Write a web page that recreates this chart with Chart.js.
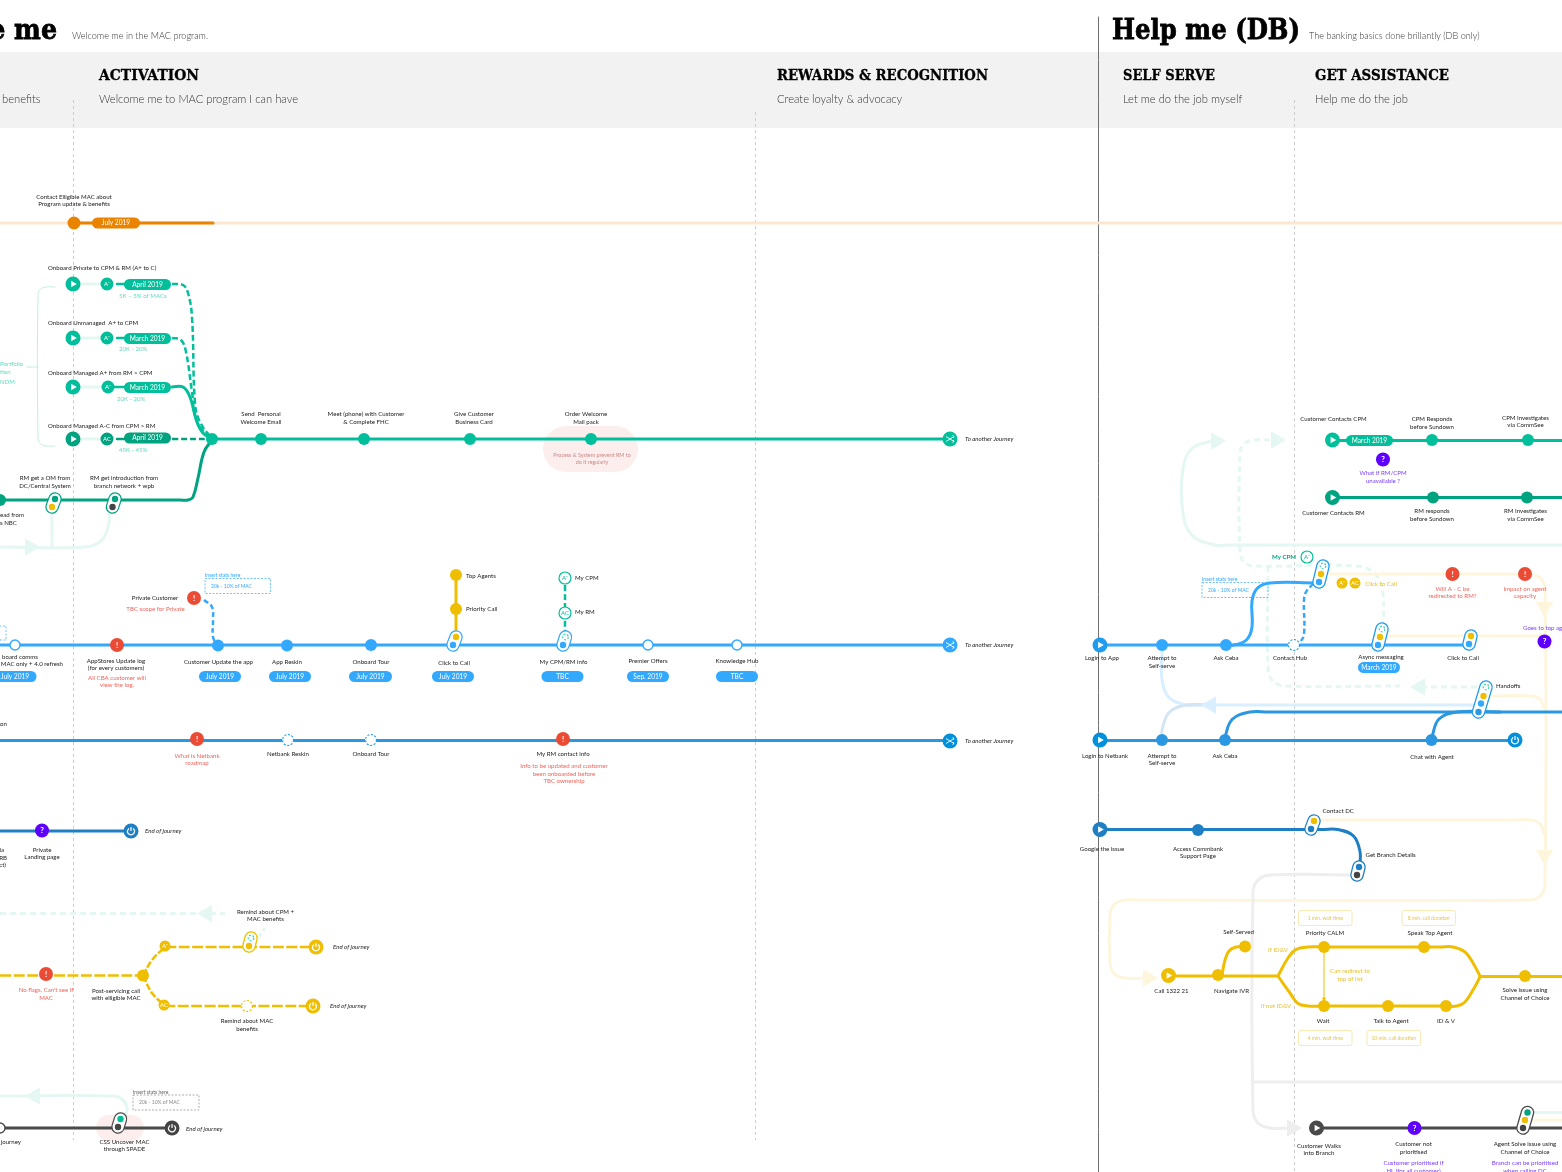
<!DOCTYPE html>
<html>
<head>
<meta charset="utf-8">
<title>Journey map</title>
<script src="https://cdn.jsdelivr.net/npm/chart.js@4/dist/chart.umd.min.js"></script>
<style>
  html, body { margin: 0; padding: 0; background: #fff; overflow: hidden; }
  canvas { display: block; }
</style>
</head>
<body>
<canvas id="map" width="1562" height="1172"></canvas>
<script>
// ── Routes (x, y) ─────────────────────────────────────────────────────────────
const guideA = [[73.5,100],[73.5,1140]];
const guideB = [[755.5,112],[755.5,1140]];
const guideC = [[1294.5,100],[1294.5,1172]];
const divider = [[1098.5,17],[1098.5,1172]];

const orangePale = [[0,223],[1562,223]];
const orangeBold = [[74,223],[213,223]];

const bracket = [[55,287],[46,287],[40.3,289.3],[38,295],[38,438],[40.3,443.7],[46,446],[55,446]];
const bracketTick = [[27,367],[38,367]];
const rowPaleA = [[73,284],[107,284]];
const rowPaleB = [[73,338],[107,338]];
const rowPaleC = [[73,387],[107,387]];
const rowPaleD = [[73,439],[107,439]];
const rowStubA = [[117,284],[124,284]];
const rowStubB = [[117,338],[124,338]];
const rowStubC = [[113,387],[124,387]];
const rowStubD = [[117,439],[124,439]];
const privateMerge = [[172,284],[183,285],[188,293],[192,317],[195,403],[200,422],[212,439]];
const unmanagedMerge = [[172,338],[181,340],[186,352],[192,392],[197,422],[212,439]];
const managedMerge = [[172,387],[183,387],[190,397],[197,422],[203,433],[212,439]];
const managedAcMerge = [[172,439],[212,439]];
const onboardMain = [[212,439],[950,439]];
const rmLine = [[0,500],[180,500],[188,500],[193,497],[198,478],[204,452],[212,440]];
const paleNbcA = [[109,513],[109,523],[102,540],[85,547],[0,547]];
const paleNbcB = [[52,510],[52,547]];

const appLine = [[0,645],[950,645]];
const privateDash = [[204,600],[212,607],[213,620],[213,637],[217,645]];
const agentsLine = [[456,575],[456,636]];
const rmStem = [[565,585],[565,632]];
const netbankLine = [[0,740.5],[950,740.5]];
const landingLine = [[0,831],[131,831]];

const remindPale = [[0,913.5],[225,913.5]];
const remindPaleStub = [[258,938],[265,928]];
const servicingDash = [[0,975.5],[143,975.5]];
const servicingUp = [[143,975.5],[152,960],[165,947]];
const servicingDown = [[143,975.5],[152,993],[164,1005]];
const servicingTop = [[165,947],[316,947]];
const servicingBottom = [[164,1006],[313,1006]];
const spadeLine = [[0,1128],[172,1128]];
const spadePale = [[125,1116],[127,1108],[123,1100],[113,1096],[0,1096]];

const cpmLine = [[1332,440.5],[1562,440.5]];
const rmContactLine = [[1332,497.5],[1562,497.5]];
const tealLoop = [[1562,545],[1230,545],[1215,545],[1192.4,535.6],[1183,513],[1183,469],[1191.2,449.2],[1211,441],[1216,441]];
const tealDashA = [[1270,440],[1254,440],[1244,444],[1240,454],[1240,552],[1244,562],[1254,566],[1355,566],[1375,574],[1383,594],[1383,628]];
const tealDashB = [[1268,566],[1268,668],[1273,681],[1286,686],[1400,686]];
const tealDashC = [[1477,687],[1425,687]];

const loginLine = [[1100,645],[1470,645]];
const cebaUp = [[1226,645],[1234,645],[1246.7,639.7],[1252,627],[1252,601],[1257.3,588.3],[1270,583],[1315,583]];
const hubDash = [[1294,645],[1300,642],[1304,634],[1304,600],[1306,592],[1313,584]];
const yellowReturn = [[1325,574],[1515,574],[1530,574],[1540.6,578.4],[1545,589],[1545,885],[1540.6,895.6],[1530,900],[1140,900],[1125,900],[1114.4,904.4],[1110,915],[1110,963],[1114.4,973.6],[1125,978],[1148,978]];
const asyncPale = [[1385,636],[1545,636]];
const handoffPale = [[1488,696],[1532,696],[1540.5,699.5],[1544,708]];
const contactPale = [[1317,820],[1515,820],[1531,820],[1540,824],[1544,834]];
const bluePaleA = [[1162,650],[1162,680],[1169.3,697.7],[1187,705],[1205,705],[1478,705]];
const bluePaleB = [[1162,735],[1162,730],[1169.3,712.3],[1187,705],[1210,705]];
const netbankRight = [[1100,740.5],[1515,740.5]];
const netbankUp = [[1225,740],[1225,737],[1232.3,719.3],[1250,712],[1268,712],[1562,712]];
const chatUp = [[1432,740],[1432,737],[1439,719],[1457,712],[1500,712]];
const googleLine = [[1100,829.5],[1322,829.5],[1338,829.5],[1353.5,836],[1360,851.5],[1360,865]];
const grayBranch = [[1352,875],[1270,875],[1258,880],[1253,892],[1253,1110],[1258,1123],[1270,1128],[1290,1128]];
const grayAcross = [[1253,1082],[1562,1082]];
const callLine = [[1168,976],[1278,976]];
const selfServedLine = [[1222,975],[1225,960],[1229,951],[1236,947],[1245,946.5]];
const priorityLine = [[1278,976],[1288,958],[1296,949.5],[1308,947],[1322,947],[1440,947],[1453,947],[1465,952],[1473,963],[1480,976]];
const waitLine = [[1278,976],[1290,993],[1298,1003.5],[1308,1006],[1322,1006],[1444,1006],[1457,1006],[1465,1002],[1473,990],[1480,977]];
const solveLine = [[1480,976.5],[1562,976.5]];
const redirectLine = [[1324,947],[1324,998]];
const branchLine = [[1316,1128],[1562,1128]];
const branchPaleTeal = [[1530,1112.5],[1562,1112.5]];
const branchPaleYellow = [[1530,1120],[1562,1120]];

// ── Stations ──────────────────────────────────────────────────────────────────
const tealStops = [[261,439],[364,439],[470,439],[591,439],[212,439],[1432,440],[1528,440]];
const darkTealStops = [[0,500],[1433,497.5],[1527,497.5]];
const orangeStops = [[74,223]];
const paleBlueStops = [[218,645.5],[287,645.5],[371,645],[1162,645],[1226,645]];
const midBlueStops = [[1162,740],[1225,740],[1431.5,740]];
const deepBlueStops = [[1198,830]];
const yellowStops = [[456,575],[456,609],[143,975.5],[1218,975],[1245,946.5],[1324,947],[1424,947],[1324,1006],[1388,1006],[1446,1006],[1525,976]];
const hollowStops = [[15,645],[648,645],[737,645]];
const hollowDarkStops = [[0,1128]];
const dashedBlueStops = [[288,740],[371,740],[1294,645]];
const dashedYellowStops = [[247,1006]];
const alertStops = [[117,645],[194,598],[197,739],[563,739],[46,974],[1452.5,574],[1525,574]];
const questionStops = [[42,830.5],[1383,459.5],[1544.5,641.5],[1414.5,1128]];

const playTeal = [[73,284],[73,338],[73,387],[1332.5,440]];
const playDarkTeal = [[73,439],[1332.5,497.5]];
const playBlue = [[1100,645]];
const playMidBlue = [[1100,740]];
const playDeepBlue = [[1100,829.5]];
const playYellow = [[1168.5,975.5]];
const playDark = [[1316.5,1128]];

const shuffleEnds = [[950,439,'#00bf9a'],[950,645,'#33a8ff'],[950,741,'#0090dc']];
const powerEnds = [[131,831,'#1f7fc4'],[316,947,'#efbe00'],[313,1006,'#efbe00'],[172,1128,'#444444'],[1515,740,'#0090dc']];

const letterTeal = [[107,284,'A⁺'],[107,338,'A⁺'],[108,387,'A⁺']];
const letterDarkTeal = [[107,439,'AC']];
const letterYellow = [[165,946,'A⁺'],[164,1005,'AC'],[1342,583,'A⁺'],[1355,583,'AC']];
const letterRings = [[565,578,'A⁺'],[565,613,'AC'],[1307,557,'A⁺']];

// Switches: dots from top to bottom of each capsule
const switchRmOm = [[55,499,'#00a37f'],[52,507,'#efbe00']];
const switchRmIntro = [[115,499,'#00a37f'],[112.5,507,'#444444']];
const switchCall = [[456,637,'#efbe00'],[453,645,'#33a8ff']];
const switchInfo = [[565.5,637,null],[563,645,'#33a8ff']];
const switchRemind = [[251,938,null],[249,946,'#efbe00']];
const switchSpade = [[120.5,1119,'#00bf9a'],[118,1127,'#444444']];
const switchContact = [[1323,566,null],[1321,574,'#efbe00'],[1319,582,'#33a8ff']];
const switchAsync = [[1382,629,null],[1380,637,'#efbe00'],[1378,645,'#33a8ff']];
const switchClick = [[1471,636,'#efbe00'],[1469,644,'#33a8ff']];
const switchHandoff = [[1486,687,null],[1483.5,696,'#efbe00'],[1481,703.5,'#33a8ff'],[1478.5,712,'#2a97e0']];
const switchDc = [[1314,821,'#efbe00'],[1311,829,'#1f7fc4']];
const switchBranch = [[1359,867,'#1f7fc4'],[1357,875,'#444444']];
const switchSolve = [[1527.5,1112.5,'#00a37f'],[1525,1120,'#efbe00'],[1523,1128,'#444444']];

// Arrow heads
const arrowsRightTeal = [[30,547],[1216,441],[1276,440]];
const arrowsLeftTeal = [[207,913.5],[35,1096],[1420,687]];
const arrowsDownYellow = [[1544.5,607],[1544.5,855]];
const arrowsRightYellow = [[1148,978]];
const arrowsLeftBlue = [[1211,705]];
const arrowsRightGray = [[1292,1128]];

// ── Text ──────────────────────────────────────────────────────────────────────
const pageTitles = [[57,39,'Welcome me',179,'right'],[1112,39,'Help me (DB)',188,'left']];
const pageNotes = [[72,36,'Welcome me in the MAC program.'],[1309,36,'The banking basics done brillantly (DB only)']];
const sectionTitles = [[99,76.5,'ACTIVATION',100],[777,76.5,'REWARDS & RECOGNITION',211],[1123,76.5,'SELF SERVE',92],[1315,76.5,'GET ASSISTANCE',134]];
const sectionNotes = [[2,99,'benefits'],[99,99,'Welcome me to MAC program I can have'],[777,99,'Create loyalty & advocacy'],[1123,99,'Let me do the job myself'],[1315,99,'Help me do the job']];

const centerLabels = [
  [74,197,'Contact Elligible MAC about\nProgram update & benefits'],
  [261,414.5,'Send  Personal\nWelcome Email'],[366,414.5,'Meet (phone) with Customer\n& Complete FHC'],
  [474,414.5,'Give Customer\nBusiness Card'],[586,414.5,'Order Welcome\nMail pack'],
  [45,478.5,'RM get a OM from\nDC/Central System'],[124,478.5,'RM get introduction from\nbranch network + wpb'],
  [116,661,'AppStores Update log\n(for every customers)'],[218.5,662,'Customer Update the app'],[287,662,'App Reskin'],
  [371,662,'Onboard Tour'],[454,663,'Click to Call'],[563.5,662.5,'My CPM/RM info'],[648,661.5,'Premier Offers'],[737,661.5,'Knowledge Hub'],
  [155,598,'Private Customer'],[288,754.5,'Netbank Reskin'],[371,754.5,'Onboard Tour'],[563,754.5,'My RM contact info'],
  [42,850,'Private\nLanding page'],[265.5,912,'Remind about CPM +\nMAC benefits'],[116,991,'Post-servicing call\nwith elligible MAC'],
  [247,1021.5,'Remind about MAC\nbenefits'],[124.5,1142,'CSS Uncover MAC\nthrough SPADE'],
  [1333.5,419.5,'Customer Contacts CPM'],[1432,419.5,'CPM Responds\nbefore Sundown'],[1525.5,418,'CPM Investigates\nvia CommSee'],
  [1333.5,513,'Customer Contacts RM'],[1432,511.5,'RM responds\nbefore Sundown'],[1525.5,511.5,'RM Investigates\nvia CommSee'],
  [1102,658.5,'Login to App'],[1162,658.5,'Attempt to\nSelf-serve'],[1226,658.5,'Ask Ceba'],[1290,658.5,'Contact Hub'],
  [1381,657,'Async messaging'],[1463,658.5,'Click to Call'],[1105,756,'Login to Netbank'],[1162,756,'Attempt to\nSelf-serve'],
  [1225,756,'Ask Ceba'],[1432,757,'Chat with Agent'],[1102,849,'Google the issue'],[1198,849,'Access Commbank\nSupport Page'],
  [1238.5,932,'Self-Served'],[1171.5,991.5,'Call 1322 21'],[1231.5,991.5,'Navigate IVR'],[1325,933.5,'Priority CALM'],[1430,933.5,'Speak Top Agent'],
  [1323,1021.5,'Wait'],[1391,1021.5,'Talk to Agent'],[1446,1021.5,'ID & V'],[1525,990.5,'Solve issue using\nChannel of Choice'],
  [1319,1146,'Customer Walks\ninto Branch'],[1413.5,1144.5,'Customer not\nprioritised'],[1525,1144.5,'Agent Solve issue using\nChannel of Choice'],
];
const leftLabels = [
  [48,268.5,'Onboard Private to CPM & RM (A+ to C)'],[48,323.5,'Onboard Unmanaged  A+ to CPM'],
  [48,373,'Onboard Managed A+ from RM > CPM'],[48,426,'Onboard Managed A-C from CPM > RM'],
  [0,515.5,'ead from'],[0,523,'s NBC'],[466,576,'Top Agents'],[466,609.5,'Priority Call'],[575,578,'My CPM'],[575,612,'My RM'],[0,724.5,'on'],
  [1496,686.5,'Handoffs'],[1322.5,811,'Contact DC'],[1365.5,855,'Get Branch Details'],
];
const rightLabels = [[38,656.7,'board comms'],[63,664,'MAC only + 4.0 refresh'],[4,850,'la'],[7,858,'RB'],[6,865,'ct)'],[21,1142,'journey']];
const endLabels = [
  [965,439,'To another Journey'],[965,645,'To another Journey'],[965,741,'To another Journey'],
  [145,831.5,'End of journey'],[333,947.5,'End of journey'],[330,1006.5,'End of journey'],[186,1129,'End of journey'],
];
const redNotes = [
  [117,678,'All CBA customer will\nview the log.'],[155.5,609.5,'TBC scope for Private'],[197,756,'What is Netbank\nroadmap'],
  [564,766.5,'Info to be updated and customer\nbeen onboarded before\nTBC ownership'],[46,990.5,"No flags. Can't see if\nMAC"],
  [1452.5,589,'Will A - C be\nredirected to RM?'],[1525,589,'Impact on agent\ncapacity'],
];
const purpleNotes = [
  [1383,473.5,'What if RM/CPM\nunavailable ?'],[1413.5,1163.5,'Customer prioritised if\nHL (for all customer)'],[1525,1163.5,'Branch can be prioritised\nwhen calling DC'],
];
const yellowNotes = [[1278,950.5,'If ID&V'],[1276,1006.5,'If not ID&V'],[1350,971.5,'Can redirect to\ntop of list'],[1381,584.5,'Click to Call']];
const tealNotes = [
  [119,296,'5K – 5% of MACs','left'],[119,349,'20K - 20%','left'],[117,399,'20K - 20%','left'],[119,450.5,'45K - 45%','left'],
  [0,364.5,'Portfolio','left'],[0,372,'tion','left'],[0,382,'NDM','left'],
];
const blobNotes = [[592,455,'Process & System prevent RM to\ndo it regularly']];

const pills = [
  ['July 2019',116,223,48,'#e98300'],['April 2019',147.5,284.5,47,'#00bf9a'],['March 2019',147.5,338.5,47,'#00bf9a'],
  ['March 2019',147.5,387.5,47,'#00bf9a'],['April 2019',147.5,438,47,'#00a37f'],
  ['July 2019',15,676.5,43,'#33a8ff'],['July 2019',220,676.5,42,'#33a8ff'],['July 2019',290,676.5,42,'#33a8ff'],['July 2019',370.5,676.5,43,'#33a8ff'],
  ['July 2019',453,676.5,42,'#33a8ff'],['TBC',562.5,676.5,42,'#33a8ff'],['Sep. 2019',648,676.5,42,'#33a8ff'],['TBC',737,676.5,42,'#33a8ff'],
  ['March 2019',1369.5,440.5,47,'#00bf9a'],['March 2019',1379,667.5,42,'#33a8ff'],
];
const statBoxes = [
  [205,578.5,65.5,15,'20k - 10% of MAC','#33a8ff'],[1202,582.5,66,15,'20k - 10% of MAC','#33a8ff'],[133,1095,66,15,'20k - 10% of MAC','#8a8a8a'],[-60,626,66,14,'','#33a8ff'],
];
const statHeads = [[205,575,'Insert stats here','#33a8ff'],[1202,579,'Insert stats here','#33a8ff'],[133,1092,'Insert stats here','#666666']];
const timeBoxes = [
  [1298.5,910.5,'1 min. wait time'],[1402,910.5,'8 min. call duration'],[1298.5,1030.5,'4 min. wait time'],[1367,1030.5,'10 min. call duration'],
];
const pinkBlobs = [[543,426,95,46,23],[96,1115,48,26,13]];

// ── Build datasets ────────────────────────────────────────────────────────────
const xy = (pts) => pts.map(p => ({ x: p[0], y: p[1] }));
const datasets = [];

function addLine(points, color, width, dash) {
  datasets.push({
    data: xy(points), showLine: true, tension: 0.4, pointRadius: 0, borderColor: color, borderWidth: width,
    borderDash: dash || [], borderCapStyle: dash ? 'butt' : 'round', borderJoinStyle: 'round', order: -datasets.length,
  });
}
function addNodes(points, color, radius, style) {
  const s = style || {};
  datasets.push({
    data: xy(points), showLine: false, pointRadius: radius, pointBackgroundColor: color,
    pointBorderColor: s.border || color, pointBorderWidth: s.borderWidth || 0,
    pointStyle: s.shape || 'circle', pointRotation: s.rotation || 0, order: -datasets.length,
  });
}
function addSwitch(dots, color) {
  const ends = [dots[0], dots[dots.length - 1]];
  addLine(ends, color, 13.5);
  addLine(ends, '#ffffff', 11);
  dots.filter(d => d[2]).forEach(d => addNodes([d], d[2], 3.2));
}

const TEAL = '#00bf9a', DARKTEAL = '#00a37f', PALETEAL = '#e5f7f2';
const BLUE = '#33a8ff', MIDBLUE = '#2a97e0', DEEPBLUE = '#1f7fc4';
const YELLOW = '#efbe00', PALEYELLOW = '#fdf5dc', DARK = '#4a4a4a', PALEGRAY = '#eeeeee';

addLine(guideA, '#cccccc', 1, [3, 3]);
addLine(guideB, '#cccccc', 1, [3, 3]);
addLine(guideC, '#cccccc', 1, [3, 3]);
addLine(divider, '#707070', 1);

// pale return routes go underneath everything else
addLine(orangePale, '#fde8cf', 3);
addLine(paleNbcA, PALETEAL, 3);
addLine(paleNbcB, PALETEAL, 3);
addLine(spadePale, PALETEAL, 3);
addLine(remindPale, PALETEAL, 3, [6, 4]);
addLine(remindPaleStub, PALETEAL, 3, [6, 3]);
addLine(tealLoop, PALETEAL, 3);
addLine(tealDashA, PALETEAL, 3, [6, 4]);
addLine(tealDashB, PALETEAL, 3, [6, 4]);
addLine(tealDashC, PALETEAL, 3, [6, 4]);
addLine(yellowReturn, PALEYELLOW, 3);
addLine(asyncPale, PALEYELLOW, 3);
addLine(handoffPale, PALEYELLOW, 3);
addLine(contactPale, PALEYELLOW, 3);
addLine(bluePaleA, '#d9eeff', 3);
addLine(bluePaleB, '#d3e5f5', 3);
addLine(grayBranch, PALEGRAY, 3);
addLine(grayAcross, PALEGRAY, 3);
addLine(branchPaleTeal, PALETEAL, 3);
addLine(branchPaleYellow, PALEYELLOW, 3);
addLine(bracket, '#bfeee2', 1);
addLine(bracketTick, '#bfeee2', 1);
addLine(rowPaleA, PALETEAL, 3);
addLine(rowPaleB, PALETEAL, 3);
addLine(rowPaleC, PALETEAL, 3);
addLine(rowPaleD, PALETEAL, 3);

addNodes(arrowsRightTeal, PALETEAL, 10, { shape: 'triangle', rotation: 90 });
addNodes(arrowsLeftTeal, PALETEAL, 10, { shape: 'triangle', rotation: -90 });
addNodes(arrowsDownYellow, PALEYELLOW, 10, { shape: 'triangle', rotation: 180 });
addNodes(arrowsRightYellow, PALEYELLOW, 10, { shape: 'triangle', rotation: 90 });
addNodes(arrowsLeftBlue, '#d9eeff', 10, { shape: 'triangle', rotation: -90 });
addNodes(arrowsRightGray, PALEGRAY, 10, { shape: 'triangle', rotation: 90 });

// main routes
addLine(orangeBold, '#e98300', 3);
addLine(rowStubA, TEAL, 2.5);
addLine(rowStubB, TEAL, 2.5);
addLine(rowStubC, TEAL, 2.5);
addLine(rowStubD, DARKTEAL, 2.5);
addLine(privateMerge, TEAL, 2.5, [6, 3]);
addLine(unmanagedMerge, TEAL, 2.5, [6, 3]);
addLine(managedMerge, TEAL, 3);
addLine(managedAcMerge, DARKTEAL, 2.5, [6, 3]);
addLine(rmLine, DARKTEAL, 3);
addLine(onboardMain, TEAL, 3);
addLine(appLine, BLUE, 3);
addLine(privateDash, BLUE, 2.5, [5, 3]);
addLine(agentsLine, YELLOW, 3);
addLine(rmStem, TEAL, 2.5, [6, 3]);
addLine(netbankLine, MIDBLUE, 3);
addLine(landingLine, DEEPBLUE, 3);
addLine(servicingDash, YELLOW, 2.5, [11, 2.5]);
addLine(servicingUp, YELLOW, 2.5, [7, 2]);
addLine(servicingDown, YELLOW, 2.5, [7, 2]);
addLine(servicingTop, YELLOW, 2.5, [11, 2.5]);
addLine(servicingBottom, YELLOW, 2.5, [11, 2.5]);
addLine(spadeLine, DARK, 3);
addLine(cpmLine, TEAL, 3);
addLine(rmContactLine, DARKTEAL, 3);
addLine(loginLine, BLUE, 3);
addLine(cebaUp, BLUE, 3);
addLine(hubDash, BLUE, 2.5, [5, 3]);
addLine(netbankRight, MIDBLUE, 3);
addLine(netbankUp, MIDBLUE, 3);
addLine(chatUp, MIDBLUE, 3);
addLine(googleLine, DEEPBLUE, 3);
addLine(callLine, YELLOW, 3);
addLine(selfServedLine, YELLOW, 3);
addLine(priorityLine, YELLOW, 3);
addLine(waitLine, YELLOW, 3);
addLine(solveLine, YELLOW, 3);
addLine(redirectLine, YELLOW, 1);
addNodes([[1324,999]], YELLOW, 2.5, { shape: 'triangle', rotation: 180 });
addLine(branchLine, DARK, 3);

// stations
addNodes(tealStops, TEAL, 6);
addNodes(darkTealStops, DARKTEAL, 6);
addNodes(orangeStops, '#e98300', 6.5);
addNodes(paleBlueStops, BLUE, 6);
addNodes(midBlueStops, MIDBLUE, 6);
addNodes(deepBlueStops, DEEPBLUE, 6);
addNodes(yellowStops, YELLOW, 6);
addNodes(hollowStops, '#ffffff', 5, { border: BLUE, borderWidth: 1.4 });
addNodes(hollowDarkStops, '#ffffff', 5, { border: DARK, borderWidth: 1.4 });
addNodes(dashedBlueStops, '#ffffff', 6);
addNodes(dashedYellowStops, '#ffffff', 6);
addNodes(alertStops, '#eb4b34', 7);
addNodes(questionStops, '#5d00ff', 7);
addNodes(playTeal, TEAL, 7.5);
addNodes(playDarkTeal, DARKTEAL, 7.5);
addNodes(playBlue, '#1e9cf0', 7.5);
addNodes(playMidBlue, '#0090dc', 7.5);
addNodes(playDeepBlue, DEEPBLUE, 7.5);
addNodes(playYellow, YELLOW, 7.5);
addNodes(playDark, DARK, 7.5);
addNodes([...playTeal, ...playDarkTeal, ...playBlue, ...playMidBlue, ...playDeepBlue, ...playYellow, ...playDark], '#ffffff', 3.8, { shape: 'triangle', rotation: 90 });
addNodes(shuffleEnds.filter(e => e[2] === TEAL), TEAL, 7.5);
addNodes(shuffleEnds.filter(e => e[2] === BLUE), BLUE, 7.5);
addNodes(shuffleEnds.filter(e => e[2] === '#0090dc'), '#0090dc', 7.5);
powerEnds.forEach(e => addNodes([e], e[2], 7.5));
addNodes(letterTeal, TEAL, 6.5);
addNodes(letterDarkTeal, DARKTEAL, 6.5);
addNodes(letterYellow, YELLOW, 5.5);
addNodes(letterRings, '#ffffff', 6, { border: TEAL, borderWidth: 1.2 });

addSwitch(switchRmOm, DARKTEAL);
addSwitch(switchRmIntro, DARKTEAL);
addSwitch(switchCall, BLUE);
addSwitch(switchInfo, BLUE);
addSwitch(switchRemind, YELLOW);
addSwitch(switchSpade, DARK);
addSwitch(switchContact, '#1e9cf0');
addSwitch(switchAsync, '#1e9cf0');
addSwitch(switchClick, '#1e9cf0');
addSwitch(switchHandoff, '#1e9cf0');
addSwitch(switchDc, DEEPBLUE);
addSwitch(switchBranch, DEEPBLUE);
addSwitch(switchSolve, DARK);

// ── Plugins: band, blobs, glyphs, pills, text ─────────────────────────────────
const LABEL_SIZE = 6.1;
const LINE_STEP = 7.5;

function drawText(ctx, sx, sy, items, font, color, align) {
  ctx.font = font;
  ctx.fillStyle = color;
  ctx.textBaseline = 'middle';
  items.forEach(it => {
    ctx.textAlign = it[3] || align;
    it[2].split('\n').forEach((line, i) => ctx.fillText(line, sx(it[0]), sy(it[1] + i * LINE_STEP)));
  });
}

function roundBox(ctx, x, y, w, h, r) {
  ctx.beginPath();
  ctx.roundRect(x, y, w, h, r);
}

const backdrop = {
  id: 'backdrop',
  beforeDatasetsDraw(chart) {
    const { ctx, scales } = chart;
    const sx = v => scales.x.getPixelForValue(v), sy = v => scales.y.getPixelForValue(v);
    ctx.save();
    ctx.fillStyle = '#f2f2f2';
    ctx.fillRect(sx(0), sy(52), sx(1562) - sx(0), sy(128) - sy(52));
    ctx.fillStyle = '#fdeeee';
    pinkBlobs.forEach(b => { roundBox(ctx, sx(b[0]), sy(b[1]), b[2], b[3], b[4]); ctx.fill(); });
    ctx.restore();
  },
};

const overlay = {
  id: 'overlay',
  afterDatasetsDraw(chart) {
    const { ctx, scales } = chart;
    const sx = v => scales.x.getPixelForValue(v), sy = v => scales.y.getPixelForValue(v);
    ctx.save();

    // dashed rings
    const ring = (p, color, r) => {
      ctx.beginPath();
      ctx.arc(sx(p[0]), sy(p[1]), r, 0, Math.PI * 2);
      ctx.strokeStyle = color;
      ctx.stroke();
    };
    ctx.lineWidth = 1.2;
    ctx.setLineDash([2, 1.6]);
    dashedBlueStops.forEach(p => ring(p, '#1e9cf0', 5.5));
    dashedYellowStops.forEach(p => ring(p, YELLOW, 5.5));
    [switchInfo, switchRemind, switchContact, switchAsync, switchHandoff].forEach(s => ring(s[0], '#3fd3b4', 2.8));
    ctx.setLineDash([]);

    // end of journey / shuffle glyphs
    ctx.strokeStyle = '#fff';
    ctx.lineWidth = 1.2;
    powerEnds.forEach(p => {
      const x = sx(p[0]), y = sy(p[1]);
      ctx.beginPath();
      ctx.arc(x, y + 0.4, 3.4, -Math.PI / 2 + 0.6, -Math.PI / 2 - 0.6 + Math.PI * 2);
      ctx.moveTo(x, y - 4);
      ctx.lineTo(x, y);
      ctx.stroke();
    });
    ctx.lineWidth = 0.9;
    shuffleEnds.forEach(p => {
      const x = sx(p[0]), y = sy(p[1]);
      ctx.beginPath();
      ctx.moveTo(x - 4, y - 2.5); ctx.lineTo(x + 4, y + 2.5);
      ctx.moveTo(x - 4, y + 2.5); ctx.lineTo(x + 4, y - 2.5);
      ctx.moveTo(x + 2.5, y - 3.5); ctx.lineTo(x + 4, y - 2.5); ctx.lineTo(x + 3, y - 1);
      ctx.moveTo(x + 2.5, y + 3.5); ctx.lineTo(x + 4, y + 2.5); ctx.lineTo(x + 3, y + 1);
      ctx.stroke();
    });

    // ! and ? on the round stops
    drawText(ctx, sx, sy, alertStops.map(p => [p[0], p[1], '!']), 'bold 8px Lato', '#fff', 'center');
    drawText(ctx, sx, sy, questionStops.map(p => [p[0], p[1], '?']), 'bold 8px Lato', '#fff', 'center');
    drawText(ctx, sx, sy, [...letterTeal, ...letterDarkTeal, ...letterYellow], '6px Lato', '#fff', 'center');
    drawText(ctx, sx, sy, letterRings, '6px Lato', TEAL, 'center');

    // date pills
    pills.forEach(p => {
      ctx.fillStyle = p[4];
      roundBox(ctx, sx(p[1]) - p[3] / 2, sy(p[2]) - 5.5, p[3], 11, 5.5);
      ctx.fill();
    });
    drawText(ctx, sx, sy, pills.map(p => [p[1], p[2], p[0]]), '6.6px Lato', '#fff', 'center');

    // stats and time boxes
    ctx.lineWidth = 0.7;
    ctx.setLineDash([2, 1.5]);
    statBoxes.forEach(b => {
      ctx.strokeStyle = b[5];
      ctx.strokeRect(sx(b[0]), sy(b[1]), b[2], b[3]);
      drawText(ctx, sx, sy, [[b[0] + 6, b[1] + b[3] / 2, b[4]]], '5px Lato', b[5], 'left');
    });
    ctx.setLineDash([]);
    statHeads.forEach(h => drawText(ctx, sx, sy, [[h[0], h[1], h[2]]], '5px Lato', h[3], 'left'));
    ctx.strokeStyle = '#f7e3a0';
    ctx.lineWidth = 0.8;
    timeBoxes.forEach(b => {
      roundBox(ctx, sx(b[0]), sy(b[1]), 53.5, 15, 2);
      ctx.stroke();
      drawText(ctx, sx, sy, [[b[0] + 26.75, b[1] + 7.5, b[2]]], '5px Lato', '#e9c44a', 'center');
    });

    // labels
    const font = LABEL_SIZE + 'px Lato';
    drawText(ctx, sx, sy, centerLabels, font, '#222', 'center');
    drawText(ctx, sx, sy, leftLabels, font, '#222', 'left');
    drawText(ctx, sx, sy, rightLabels, font, '#222', 'right');
    drawText(ctx, sx, sy, endLabels, 'italic ' + font, '#222', 'left');
    drawText(ctx, sx, sy, redNotes, font, '#f0645a', 'center');
    drawText(ctx, sx, sy, purpleNotes, font, '#7a3dff', 'center');
    drawText(ctx, sx, sy, [[1523,628.5,'Goes to top agent']], font, '#7a3dff', 'left');
    drawText(ctx, sx, sy, yellowNotes, font, '#e9bf2c', 'center');
    drawText(ctx, sx, sy, tealNotes, font, '#5fd9bf', 'center');
    drawText(ctx, sx, sy, [[1272,557.5,'My CPM']], 'bold ' + font, DARKTEAL, 'left');
    drawText(ctx, sx, sy, blobNotes, '5.4px Lato', '#c98a8a', 'center');

    // headings
    ctx.fillStyle = '#000';
    ctx.strokeStyle = '#000';
    ctx.textBaseline = 'alphabetic';
    ctx.font = 'bold 28px "DejaVu Serif"';
    ctx.lineWidth = 0.8;
    pageTitles.forEach(t => {
      ctx.textAlign = t[4];
      ctx.fillText(t[2], sx(t[0]), sy(t[1]), t[3]);
      ctx.strokeText(t[2], sx(t[0]), sy(t[1]), t[3]);
    });
    ctx.textAlign = 'left';
    ctx.textBaseline = 'middle';
    ctx.font = 'bold 15px "DejaVu Serif"';
    ctx.lineWidth = 0.3;
    sectionTitles.forEach(t => {
      ctx.fillText(t[2], sx(t[0]), sy(t[1]), t[3]);
      ctx.strokeText(t[2], sx(t[0]), sy(t[1]), t[3]);
    });
    drawText(ctx, sx, sy, pageNotes, '300 9.1px Lato', '#333', 'left');
    drawText(ctx, sx, sy, sectionNotes, '300 11.2px Lato', '#333', 'left');
    ctx.restore();
  },
};

new Chart(document.getElementById('map'), {
  type: 'scatter',
  data: { datasets },
  plugins: [backdrop, overlay],
  options: {
    responsive: false,
    animation: false,
    layout: { padding: 0, autoPadding: false },
    plugins: { legend: { display: false }, tooltip: { enabled: false } },
    scales: {
      x: { type: 'linear', min: 0, max: 1562, display: false },
      y: { type: 'linear', min: 0, max: 1172, reverse: true, display: false },
    },
  },
});
</script>
</body>
</html>
